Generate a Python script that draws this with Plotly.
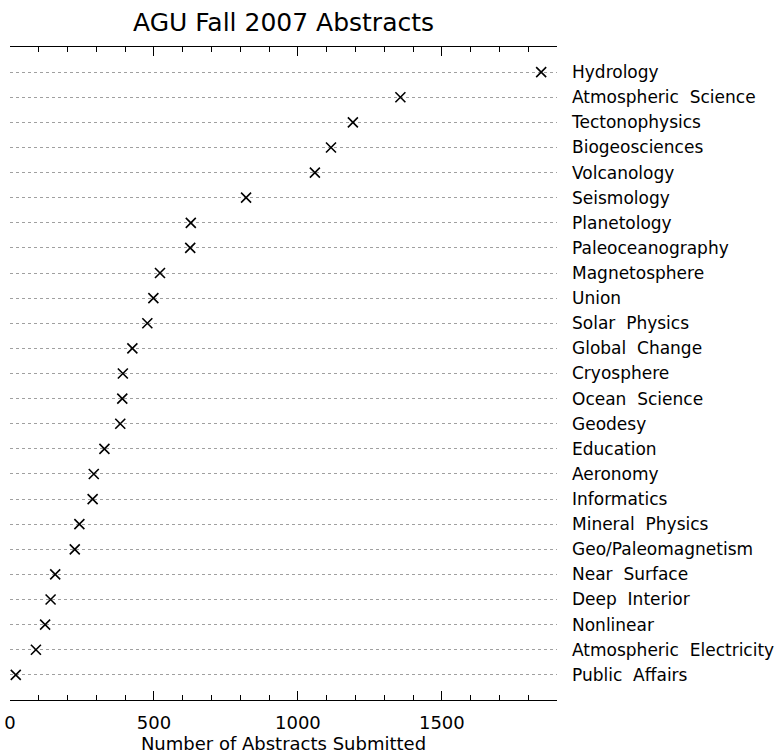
import plotly.graph_objects as go

# AGU Fall 2007 abstract counts per section (top to bottom)
sections = [
    "Hydrology", "Atmospheric  Science", "Tectonophysics", "Biogeosciences",
    "Volcanology", "Seismology", "Planetology", "Paleoceanography",
    "Magnetosphere", "Union", "Solar  Physics", "Global  Change",
    "Cryosphere", "Ocean  Science", "Geodesy", "Education", "Aeronomy",
    "Informatics", "Mineral  Physics", "Geo/Paleomagnetism", "Near  Surface",
    "Deep  Interior", "Nonlinear", "Atmospheric  Electricity", "Public  Affairs",
]
abstracts = [
    1845, 1356, 1191, 1115, 1059, 820, 628, 626, 521, 498, 477, 425,
    392, 390, 383, 328, 291, 287, 241, 225, 157, 141, 122, 90, 20,
]
x_ticks = [0, 500, 1000, 1500]

n = len(sections)
rows = list(range(n, 0, -1))  # first section at top

FONT = "DejaVu Sans"

fig = go.Figure(
    go.Scatter(
        x=abstracts,
        y=rows,
        mode="markers",
        marker=dict(symbol="x-thin", size=10, line=dict(width=1.6, color="black")),
        showlegend=False,
        hoverinfo="skip",
    )
)

fig.update_layout(
    width=777,
    height=755,
    margin=dict(l=10, r=220, t=47, b=55, autoexpand=False),
    paper_bgcolor="white",
    plot_bgcolor="white",
    font=dict(family=FONT, color="black"),
    title=dict(
        text="AGU Fall 2007 Abstracts",
        font=dict(size=25, family=FONT, color="black"),
        x=(10 + 557) / 2 / 777,
        xanchor="center",
        y=1 - 22 / 755,
        yanchor="middle",
    ),
)

fig.update_xaxes(
    range=[0, 1900],
    tickvals=x_ticks,
    ticks="inside",
    ticklen=9,
    tickwidth=1,
    tickcolor="black",
    minor=dict(dtick=100, ticks="inside", ticklen=5, tickwidth=1, tickcolor="black"),
    showline=True,
    linecolor="black",
    linewidth=1,
    mirror="ticks",
    showgrid=False,
    zeroline=False,
    automargin=False,
    ticklabelstandoff=6,
    tickfont=dict(size=18, family=FONT),
    title=dict(text="Number of Abstracts Submitted", font=dict(size=18, family=FONT), standoff=4),
)

fig.update_yaxes(
    range=[0, n + 1],
    side="right",
    tickvals=rows,
    ticktext=sections,
    ticks="",
    ticklabelstandoff=14,
    showline=False,
    showgrid=True,
    gridcolor="#a0a0a0",
    gridwidth=1,
    griddash="3px,3px",
    zeroline=False,
    automargin=False,
    tickfont=dict(size=17, family=FONT),
)

fig.write_html("out.html")
